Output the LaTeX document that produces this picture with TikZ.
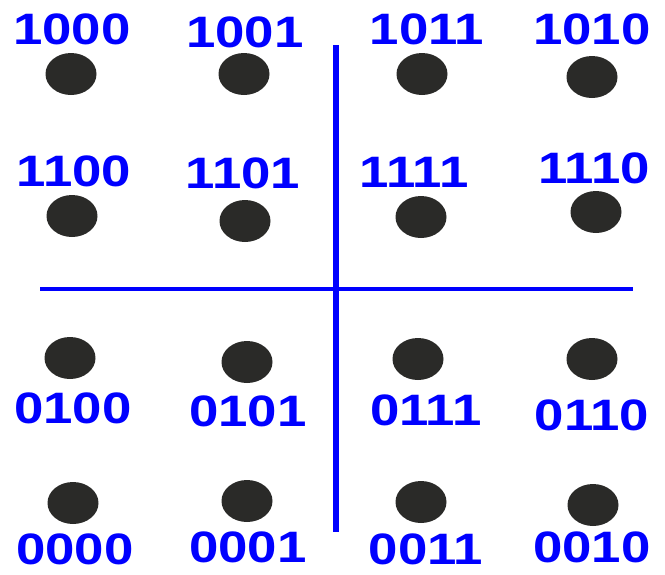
\documentclass[tikz,border=0pt]{standalone}
\usepackage{fontspec}
\newfontfamily\bitsfont[FakeStretch=1.2]{Liberation Sans}
\usetikzlibrary{shapes.geometric}
\definecolor{dotgray}{RGB}{42,42,40}

\begin{document}
\begin{tikzpicture}[x=1pt, y=-1pt,
    sym/.style={ellipse, fill=dotgray, inner sep=0pt, minimum width=51pt, minimum height=42pt},
    bits/.style={text=blue, inner sep=0pt, font=\bitsfont\bfseries\fontsize{44}{44}\selectfont},
    axis/.style={blue, line cap=butt}
  ]
  \useasboundingbox (0,0) rectangle (665,574);

  \coordinate (Vt) at (336,45);   % top of the Q axis
  \coordinate (Vb) at (336,532);  % bottom of the Q axis
  \coordinate (Hl) at (40,289);   % left end of the I axis
  \coordinate (Hr) at (633,289);  % right end of the I axis

  \draw[axis, line width=6pt] (Vt) -- (Vb);
  \draw[axis, line width=4.5pt] (Hl) -- (Hr);

  % upper half
  \node[sym] (d1000) at (71,74) {};   \node[bits] (l1000) at (72,29)  {1000};
  \node[sym] (d1001) at (244,74) {};  \node[bits] (l1001) at (245,32) {1001};
  \node[sym] (d1011) at (422,74) {};  \node[bits] (l1011) at (427,29) {1011};
  \node[sym] (d1010) at (592,77) {};  \node[bits] (l1010) at (592,29) {1010};

  \node[sym] (d1100) at (72,216) {};  \node[bits] (l1100) at (74,171)  {1100};
  \node[sym] (d1101) at (245,221) {}; \node[bits] (l1101) at (243,173) {1101};
  \node[sym] (d1111) at (421,217) {}; \node[bits] (l1111) at (414,172) {1111};
  \node[sym] (d1110) at (596,212) {}; \node[bits] (l1110) at (594,168) {1110};

  % lower half
  \node[sym] (d0100) at (70,358) {};  \node[bits] (l0100) at (73,408)  {0100};
  \node[sym] (d0101) at (247,362) {}; \node[bits] (l0101) at (248,411) {0101};
  \node[sym] (d0111) at (418,359) {}; \node[bits] (l0111) at (426,410) {0111};
  \node[sym] (d0110) at (592,359) {}; \node[bits] (l0110) at (592,415) {0110};

  \node[sym] (d0000) at (73,503) {};  \node[bits] (l0000) at (75,549)  {0000};
  \node[sym] (d0001) at (247,501) {}; \node[bits] (l0001) at (248,547) {0001};
  \node[sym] (d0011) at (421,502) {}; \node[bits] (l0011) at (426,549) {0011};
  \node[sym] (d0010) at (593,505) {}; \node[bits] (l0010) at (592,547) {0010};
\end{tikzpicture}
\end{document}
